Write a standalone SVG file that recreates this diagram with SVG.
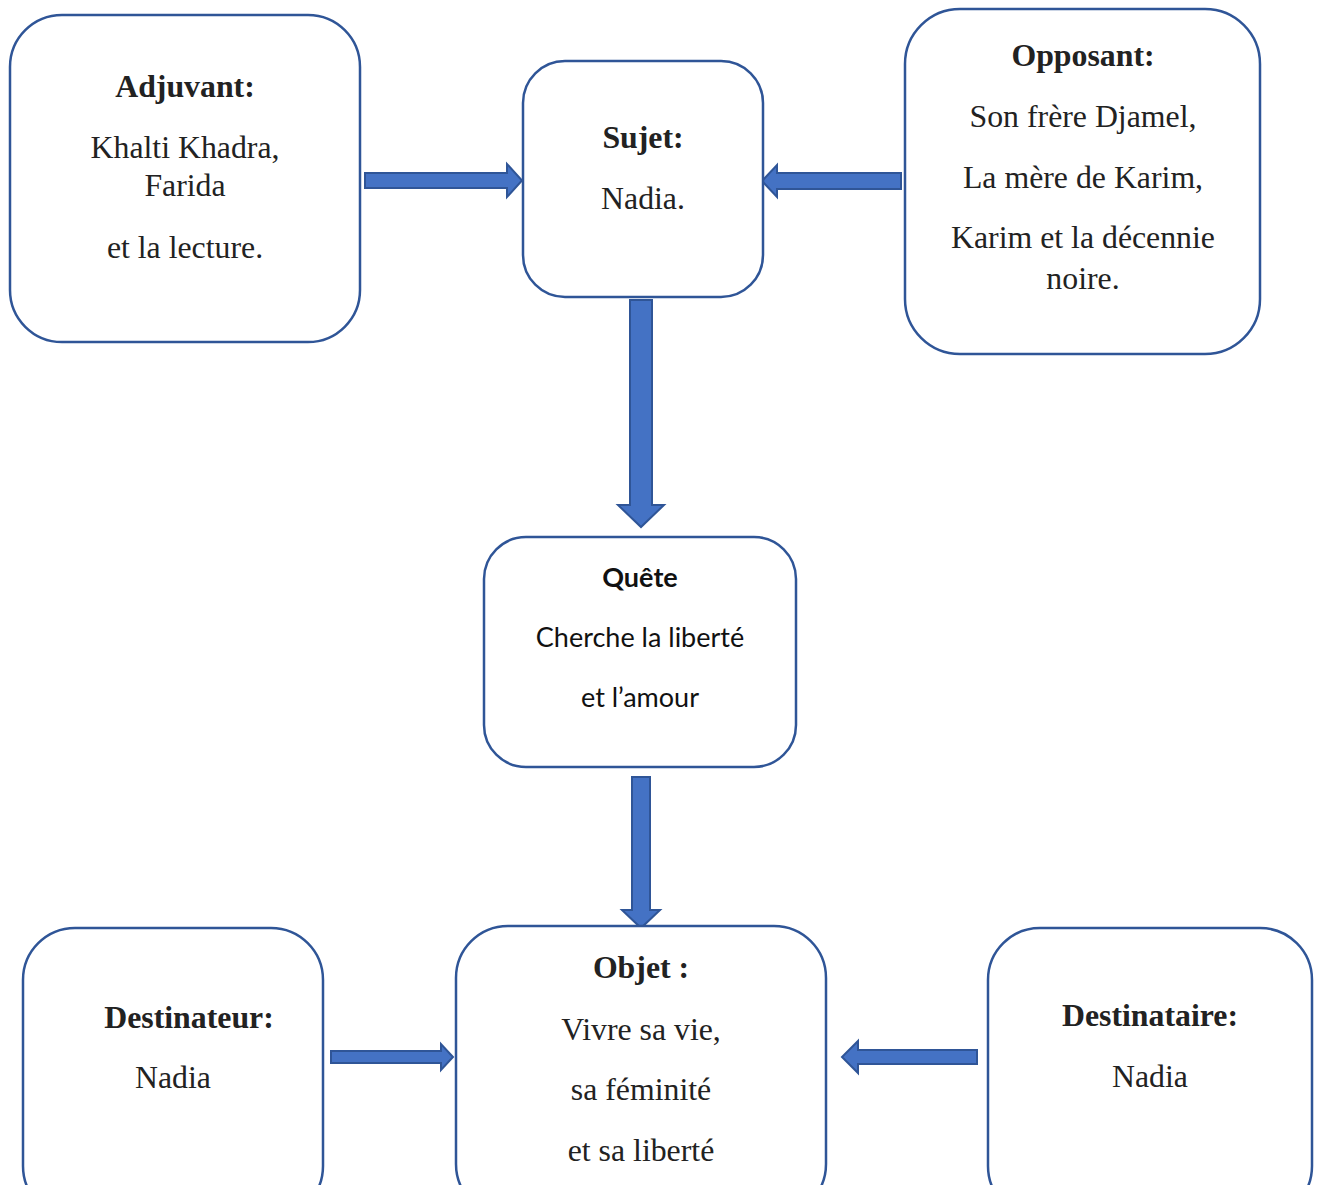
<svg xmlns="http://www.w3.org/2000/svg" width="1322" height="1185" viewBox="0 0 1322 1185">
<style>
.box{fill:#fff;stroke:#2f5597;stroke-width:2.5}
.arr{fill:#4472c4;stroke:#2f5597;stroke-width:2;stroke-linejoin:miter}
.t{font-family:"Liberation Serif","Times New Roman",serif;font-size:31.8px;fill:#222;text-anchor:middle}
.b{font-weight:bold}
.c{font-family:Lato,"Open Sans",sans-serif;font-size:27px;fill:#111;text-anchor:middle}
</style>
<rect width="1322" height="1185" fill="#fff"/>
<g id="connectors">
<path class="arr" d="M365,173 H507 V164 L522,180.5 L507,197 V188 H365 Z"/>
<path class="arr" d="M901,173 H777 V165 L762,181 L777,197 V189 H901 Z"/>
<path class="arr" d="M630,300 H652 V505 H664 L641,527 L618,505 H630 Z"/>
<path class="arr" d="M632,777 H650 V910 H660 L641,928 L622,910 H632 Z"/>
<path class="arr" d="M331,1051 H441 V1044 L453,1057 L441,1070 V1063 H331 Z"/>
<path class="arr" d="M977,1050 H858 V1041 L842,1057 L858,1073 V1064 H977 Z"/>
</g>
<g id="adjuvant">
<rect class="box" x="10" y="15" width="350" height="327" rx="52"/>
<text class="t b" x="185" y="97">Adjuvant:</text>
<text class="t" x="185" y="158">Khalti Khadra,</text>
<text class="t" x="185" y="196">Farida</text>
<text class="t" x="185" y="258">et la lecture.</text>
</g>
<g id="sujet">
<rect class="box" x="523" y="61" width="240" height="236" rx="42"/>
<text class="t b" x="643" y="148">Sujet:</text>
<text class="t" x="643" y="209">Nadia.</text>
</g>
<g id="opposant">
<rect class="box" x="905" y="9" width="355" height="345" rx="55"/>
<text class="t b" x="1083" y="66">Opposant:</text>
<text class="t" x="1083" y="127">Son frère Djamel,</text>
<text class="t" x="1083" y="188">La mère de Karim,</text>
<text class="t" x="1083" y="248">Karim et la décennie</text>
<text class="t" x="1083" y="289">noire.</text>
</g>
<g id="quete">
<rect class="box" x="484" y="537" width="312" height="230" rx="42"/>
<text class="c b" x="640" y="587">Quête</text>
<text class="c" x="640" y="647">Cherche la liberté</text>
<text class="c" x="640" y="707">et l’amour</text>
</g>
<g id="destinateur">
<rect class="box" x="23" y="928" width="300" height="290" rx="52"/>
<text class="t b" x="189" y="1028">Destinateur:</text>
<text class="t" x="173" y="1088">Nadia</text>
</g>
<g id="objet">
<rect class="box" x="456" y="926" width="370" height="290" rx="52"/>
<text class="t b" x="641" y="978">Objet :</text>
<text class="t" x="641" y="1040">Vivre sa vie,</text>
<text class="t" x="641" y="1100">sa féminité</text>
<text class="t" x="641" y="1161">et sa liberté</text>
</g>
<g id="destinataire">
<rect class="box" x="988" y="928" width="324" height="290" rx="52"/>
<text class="t b" x="1150" y="1026">Destinataire:</text>
<text class="t" x="1150" y="1087">Nadia</text>
</g>
</svg>
